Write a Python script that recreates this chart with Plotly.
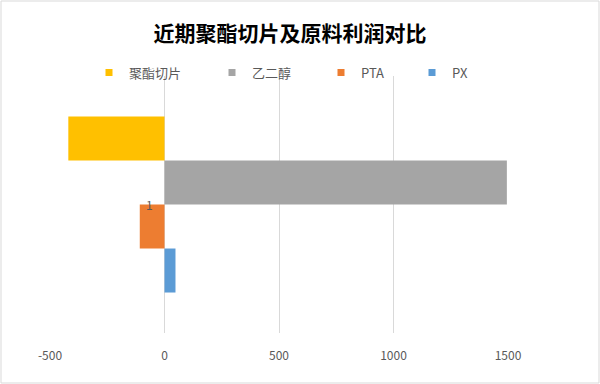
import plotly.graph_objects as go

category = ["1"]
series_names = ["聚酯切片", "乙二醇", "PTA", "PX"]
series_values = [-420, 1495, -108, 48]
series_colors = ["#FFC000", "#A5A5A5", "#ED7D31", "#5B9BD5"]
x_ticks = [-500, 0, 500, 1000, 1500]
x_tick_labels = ["-500", "0", "500", "1000", "1500"]

FONT = "Noto Sans CJK SC"
GREY = "#595959"

fig = go.Figure()

# bars: plotly places grouped horizontal bars bottom-up, so add in reverse
for name, val, col in reversed(list(zip(series_names, series_values, series_colors))):
    fig.add_trace(go.Bar(
        y=category, x=[val], name=name, orientation="h",
        marker=dict(color=col, line=dict(width=0)),
        showlegend=False, hoverinfo="x+name",
    ))

# legend entries, each in its own legend so they can be spaced like the original
legend_text_px = [130, 253, 362, 453]
legend_keys = ["legend", "legend2", "legend3", "legend4"]
for name, col, key in zip(series_names, series_colors, legend_keys):
    fig.add_trace(go.Scatter(
        x=[None], y=[None], mode="markers", name=name,
        marker=dict(symbol="square", size=7, color=col),
        legend=key, showlegend=True,
    ))

legend_layouts = {}
for key, tx in zip(legend_keys, legend_text_px):
    legend_layouts[key] = dict(
        xref="container", yref="container",
        x=(tx - 41) / 600, xanchor="left",
        y=1 - 72.5 / 384, yanchor="middle",
        orientation="h",
        font=dict(family=FONT, size=13, color=GREY),
        bgcolor="rgba(0,0,0,0)", borderwidth=0,
    )

L, R, T, B = 50, 92, 76, 51
pw, ph = 600 - L - R, 384 - T - B

fig.update_layout(
    width=600, height=384,
    margin=dict(l=L, r=R, t=T, b=B, autoexpand=False),
    paper_bgcolor="white", plot_bgcolor="white",
    barmode="group", bargap=0.315, bargroupgap=0,
    font=dict(family=FONT, color=GREY),
    title=dict(
        text="近期聚酯切片及原料利润对比",
        x=290 / 600, xanchor="center", xref="container",
        y=1 - 34 / 384, yanchor="middle", yref="container",
        font=dict(family=FONT, size=21, color="#000000", weight="bold"),
    ),
    xaxis=dict(
        range=[-500, 1500], tickvals=x_ticks, ticktext=x_tick_labels,
        showgrid=True, gridcolor="#D9D9D9", gridwidth=1,
        zeroline=True, zerolinecolor="#D9D9D9", zerolinewidth=1,
        showline=False, ticks="", ticklabelstandoff=14,
        tickfont=dict(family=FONT, size=12, color=GREY),
    ),
    yaxis=dict(
        type="category", range=[-0.5, 0.5],
        showticklabels=False, showgrid=False, zeroline=False, showline=False,
        ticks="",
    ),
    shapes=[dict(
        type="rect", xref="paper", yref="paper",
        x0=(1 - L) / pw, x1=(599 - L) / pw,
        y0=(ph - (383 - T)) / ph, y1=(ph - (1 - T)) / ph,
        line=dict(color="#D9D9D9", width=1), fillcolor="rgba(0,0,0,0)",
        layer="below",
    )],
    annotations=[dict(
        x=0, y=0, xref="x", yref="y",
        text=category[0], showarrow=False,
        xanchor="right", yanchor="middle", xshift=-10,
        font=dict(family=FONT, size=12, color=GREY),
    )],
    **legend_layouts,
)

fig.write_html(
    "out.html",
    config={"displayModeBar": False},
    post_script="document.body.style.margin='0';",
)
